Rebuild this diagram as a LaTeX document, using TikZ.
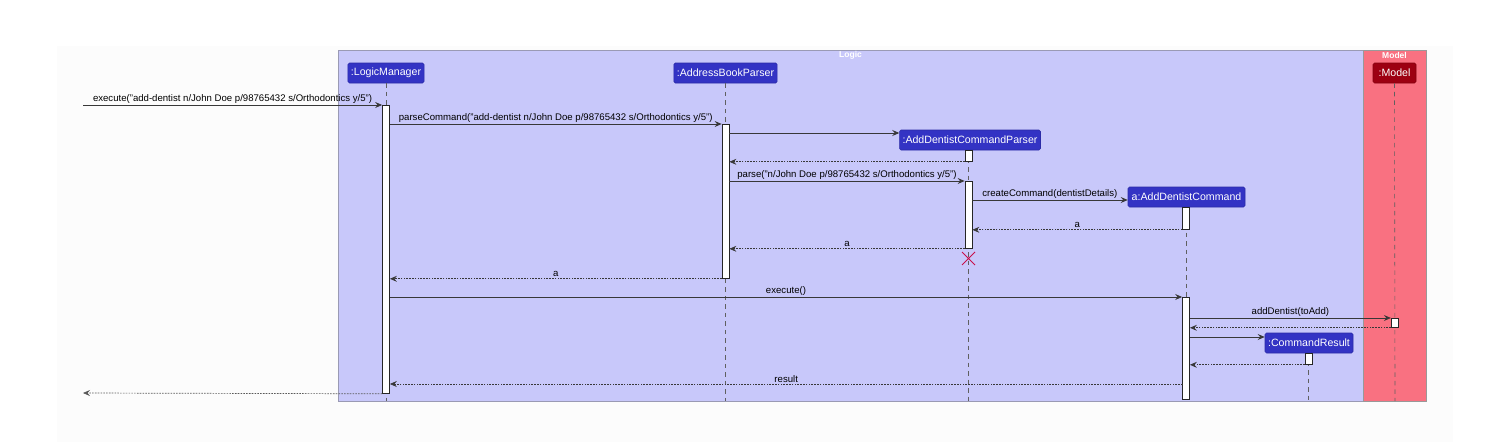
\documentclass[tikz,border=0pt]{standalone}
\usepackage{fontspec}
\setmainfont{Liberation Sans}
\usetikzlibrary{arrows.meta,shapes.misc}
\definecolor{logicT}{HTML}{C8C8FA}
\definecolor{logicC}{HTML}{3333C4}
\definecolor{modelT}{HTML}{F97181}
\definecolor{modelC}{HTML}{9D0012}
\definecolor{msgc}{HTML}{383838}
\definecolor{destroyc}{HTML}{C8104A}
\definecolor{boxborder}{HTML}{9A9AB4}
\begin{document}
\begin{tikzpicture}[x=1pt,y=-1pt,
  part/.style={draw=logicC!85!black, fill=logicC, text=white, rounded corners=1.5pt,
    font=\fontsize{10.6}{12}\selectfont, minimum height=20pt, inner xsep=3pt, inner ysep=0pt, line width=0.6pt},
  modelpart/.style={part, draw=modelC!85!black, fill=modelC},
  act/.style={draw=black!85, fill=white, line width=0.8pt, minimum width=7pt, inner sep=0pt, anchor=north},
  msg/.style={draw=msgc, line width=0.8pt, -{Stealth[length=7pt,width=6pt,inset=2.5pt]}},
  ret/.style={msg, line width=0.7pt, dash pattern=on 1.6pt off 1.2pt},
  life/.style={draw=gray!75!black, dash pattern=on 4.5pt off 4pt, line width=0.6pt},
  lbl/.style={font=\fontsize{9.6}{11}\selectfont, text=black, inner sep=0pt, above=1.5pt},
  grouptitle/.style={font=\bfseries\fontsize{8.5}{9}\selectfont, text=white}]
\useasboundingbox (0,0) rectangle (1492,442);
\fill[gray!2] (57,46) rectangle (1453,442);
% groups
\draw[fill=logicT, draw=boxborder, line width=0.8pt] (338,50) rectangle (1363,401);
\draw[fill=modelT, draw=gray!80, line width=0.8pt] (1363,50) rectangle (1426,401);
\node[grouptitle] (tlogic) at (850.5,55.5) {Logic};
\node[grouptitle] (tmodel) at (1394.5,55.5) {Model};
% participants
\node[part, minimum width=76pt] (lm) at (386,73) {:LogicManager};
\node[part, minimum width=101pt] (abp) at (725.5,73) {:AddressBookParser};
\node[part, minimum width=140pt] (adcp) at (970,140) {:AddDentistCommandParser};
\node[part, minimum width=117pt] (adc) at (1186.5,197) {a:AddDentistCommand};
\node[part, minimum width=88pt] (cr) at (1309,343) {:CommandResult};
\node[modelpart, minimum width=43pt] (mdl) at (1394.5,73) {:Model};
% lifeline ends
\coordinate (lmE) at (386,401);
\coordinate (abpE) at (725.5,401);
\coordinate (adcpE) at (968.5,401);
\coordinate (adcE) at (1186,401);
\coordinate (crE) at (1308.5,401);
\coordinate (mdlE) at (1395,401);
\draw[life] (lm.south) -- (lmE);
\draw[life] (abp.south) -- (abpE);
\draw[life] (968.5,150) coordinate (adcpS) -- (adcpE);
\draw[life] (1186,207) coordinate (adcS) -- (adcE);
\draw[life] (1308.5,353) coordinate (crS) -- (crE);
\draw[life] (mdl.south) -- (mdlE);
% activations
\node[act, minimum height=288pt] (alm) at (386,105) {};
\node[act, minimum height=154pt] (aabp) at (725.5,124) {};
\node[act, minimum height=11pt] (ap1) at (968.5,150) {};
\node[act, minimum height=67pt] (ap2) at (968.5,181) {};
\node[act, minimum height=22pt] (ac1) at (1186,207) {};
\node[act, minimum height=102pt] (ac2) at (1186,297) {};
\node[act, minimum height=9pt, minimum width=7.5pt] (am) at (1395,318) {};
\node[act, minimum height=11pt] (acr) at (1308.5,353) {};
% helper coordinates
\coordinate (ext) at (83,105);
\coordinate (extR) at (83,393);
\coordinate (c3) at (729,133);
\coordinate (c6) at (972,200);
\coordinate (c14) at (1189.5,337);
\coordinate (c16) at (1182.5,384);
% messages
\draw[msg] (ext) -- (alm.north west) node[lbl, midway] {execute("add-dentist n/John Doe p/98765432 s/Orthodontics y/5")};
\draw[msg] (alm.east |- aabp.north) -- (aabp.north west) node[lbl, midway] {parseCommand("add-dentist n/John Doe p/98765432 s/Orthodontics y/5")};
\draw[msg] (c3) -- (adcp.west |- c3);
\draw[ret] (ap1.south west) -- (aabp.east |- ap1.south);
\draw[msg] (aabp.east |- ap2.north) -- (ap2.north west) node[lbl, midway] {parse("n/John Doe p/98765432 s/Orthodontics y/5")};
\draw[msg] (c6) -- (adc.west |- c6) node[lbl, midway] {createCommand(dentistDetails)};
\draw[ret] (ac1.south west) -- (ap2.east |- ac1.south) node[lbl, midway] {a};
\draw[ret] (ap2.south west) -- (aabp.east |- ap2.south) node[lbl, midway] {a};
\node[cross out, draw=destroyc, line width=1pt, minimum size=12pt, inner sep=0pt] (dx) at (968.5,258.5) {};
\draw[ret] (aabp.south west) -- (alm.east |- aabp.south) node[lbl, midway] {a};
\draw[msg] (alm.east |- ac2.north) -- (ac2.north west) node[lbl, midway] {execute()};
\draw[msg] (ac2.east |- am.north) -- (am.north west) node[lbl, midway] {addDentist(toAdd)};
\draw[ret] (am.south west) -- (ac2.east |- am.south);
\draw[msg] (c14) -- (cr.west |- c14);
\draw[ret] (acr.south west) -- (ac2.east |- acr.south);
\draw[ret] (c16) -- (alm.east |- c16) node[lbl, midway] {result};
\draw[ret, draw=gray!70!black] (alm.south west) -- (extR);
\end{tikzpicture}
\end{document}
